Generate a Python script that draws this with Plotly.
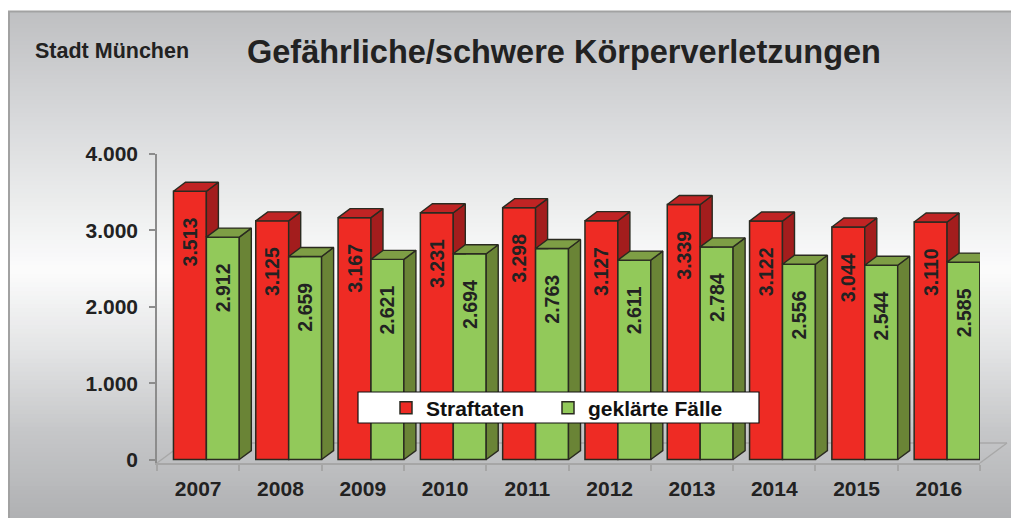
import plotly.graph_objects as go

# ---------------- data ----------------
years = ["2007", "2008", "2009", "2010", "2011", "2012", "2013", "2014", "2015", "2016"]
straftaten = [3513, 3125, 3167, 3231, 3298, 3127, 3339, 3122, 3044, 3110]
geklaert = [2912, 2659, 2621, 2694, 2763, 2611, 2784, 2556, 2544, 2585]
y_ticks = [0, 1000, 2000, 3000, 4000]
series_names = ["Straftaten", "geklärte Fälle"]
title_text = "Gefährliche/schwere Körperverletzungen"
subtitle_text = "Stadt München"

# ---------------- layout constants ----------------
OFF = 8                      # default page (body) margin of the html file
PAGE_W, PAGE_H = 1019, 518
W, H = PAGE_W - OFF, PAGE_H - OFF
PL, PR, PT, PB = 157, 980, 154, 463      # plot area in page pixels
L, R, T, B = PL - OFF, W - (PR - OFF), PT - OFF, H - (PB - OFF)
PW, PH = PR - PL, PB - PT
FONT = "Liberation Sans, Arial, sans-serif"
TXT = "#222222"


def px(x):
    return (x - PL) / PW


def py(y):
    return (PB - y) / PH


BAR_W = 0.4
RED_OFF, GREEN_OFF = -0.1, 0.3
DX, DY = 0.146, 118  # 3D depth offset in data units

RED_FRONT, RED_TOP, RED_SIDE = "#ee2b24", "#c02424", "#a31d1d"
GRN_FRONT, GRN_TOP, GRN_SIDE = "#92c95a", "#7e9e45", "#6a8436"
OUTLINE = "#2a2a20"

xi = list(range(len(years)))
red_x = [i + RED_OFF for i in xi]
green_x = [i + GREEN_OFF for i in xi]


def top_faces(xc, vals):
    xs, ys = [], []
    for x, v in zip(xc, vals):
        l, r = x - BAR_W / 2, x + BAR_W / 2
        xs += [l, r, r + DX, l + DX, l, None]
        ys += [v, v, v + DY, v + DY, v, None]
    return xs, ys


def side_faces(xc, vals, lows=None):
    xs, ys = [], []
    for k, (x, v) in enumerate(zip(xc, vals)):
        r = x + BAR_W / 2
        if lows is None:
            b0, b1 = 0, DY
        else:
            b0, b1 = lows[k], lows[k]
        xs += [r, r, r + DX, r + DX, r, None]
        ys += [b0, v, v + DY, b1, b0, None]
    return xs, ys


fig = go.Figure()

label_font = dict(size=19.5, color=TXT, family=FONT, weight="bold")
label_tpl = "%{y:,}\u2003\u2009"
fig.add_trace(go.Bar(
    x=red_x, y=straftaten, width=BAR_W, name=series_names[0], legend="legend",
    marker=dict(color=RED_FRONT, line=dict(color=OUTLINE, width=1.5)),
    texttemplate=label_tpl, textposition="inside", insidetextanchor="end",
    textangle=-90, constraintext="none", textfont=label_font,
))
fig.add_trace(go.Bar(
    x=green_x, y=geklaert, width=BAR_W, name=series_names[1], legend="legend2",
    marker=dict(color=GRN_FRONT, line=dict(color=OUTLINE, width=1.5)),
    texttemplate=label_tpl, textposition="inside", insidetextanchor="end",
    textangle=-90, constraintext="none", textfont=label_font,
))

for (xs, ys), col in [
    (side_faces(red_x, straftaten, geklaert), RED_SIDE),
    (top_faces(red_x, straftaten), RED_TOP),
    (side_faces(green_x, geklaert), GRN_SIDE),
    (top_faces(green_x, geklaert), GRN_TOP),
]:
    fig.add_trace(go.Scatter(
        x=xs, y=ys, mode="lines", fill="toself", fillcolor=col,
        line=dict(color=OUTLINE, width=1.4), showlegend=False, hoverinfo="skip",
    ))

shapes = []
stops = [(11, (190, 191, 193)), (100, (212, 213, 215)), (180, (230, 231, 232)),
         (270, (252, 252, 252)), (350, (227, 228, 229)), (430, (198, 199, 201)),
         (518, (176, 177, 179))]


def grad(yv):
    for (y0, c0), (y1, c1) in zip(stops[:-1], stops[1:]):
        if y0 <= yv <= y1:
            t = (yv - y0) / (y1 - y0)
            return "rgb(%d,%d,%d)" % tuple(round(a + (b - a) * t) for a, b in zip(c0, c1))
    return "rgb(%d,%d,%d)" % stops[-1][1]


n = 120
top, bot = 11, PAGE_H + 2
step = (bot - top) / n
for k in range(n):
    y0 = top + k * step
    shapes.append(dict(type="rect", xref="paper", yref="paper", layer="below",
                       x0=px(8), x1=px(PAGE_W + 4), y0=py(y0), y1=py(y0 + step + 0.8),
                       fillcolor=grad(y0 + step / 2), line=dict(width=0)))
shapes.append(dict(type="line", xref="paper", yref="paper", layer="below",
                   x0=px(8), x1=px(PAGE_W + 4), y0=py(11.5), y1=py(11.5),
                   line=dict(color="#a2a2a2", width=2)))
shapes.append(dict(type="line", xref="paper", yref="paper", layer="below",
                   x0=px(9), x1=px(9), y0=py(11), y1=py(PAGE_H + 4),
                   line=dict(color="#a2a2a2", width=2)))
floor_col = "#a8a8a8"
for (a, b, c, d) in [(980, 463, 1007, 443), (1007, 443, 184, 443), (157, 463, 184, 443)]:
    shapes.append(dict(type="line", xref="paper", yref="paper", layer="below",
                       x0=px(a), y0=py(b), x1=px(c), y1=py(d),
                       line=dict(color=floor_col, width=1.5)))
shapes.append(dict(type="rect", xref="paper", yref="paper", layer="above",
                   x0=px(358), x1=px(759), y0=py(423), y1=py(392),
                   fillcolor="white", line=dict(color="#111111", width=1.2)))

legend_font = dict(size=21, family=FONT, color="#111111", weight="bold")
legend_common = dict(orientation="h", yanchor="middle", xanchor="left",
                     bgcolor="rgba(0,0,0,0)", borderwidth=0, font=legend_font)

fig.update_layout(
    width=W, height=H,
    margin=dict(l=L, r=R, t=T, b=B, pad=0),
    paper_bgcolor="white", plot_bgcolor="rgba(0,0,0,0)",
    separators=",.",
    barmode="overlay",
    font=dict(family=FONT, color=TXT),
    shapes=shapes,
    showlegend=True,
    legend=dict(x=px(386), y=py(408), **legend_common),
    legend2=dict(x=px(548), y=py(408), **legend_common),
    title=dict(text=title_text, xref="container", yref="container",
               x=(247 - OFF) / W, xanchor="left", y=1 - (52 - OFF) / H, yanchor="middle",
               font=dict(size=32.5, family=FONT, color=TXT, weight="bold")),
    annotations=[dict(text=subtitle_text, xref="paper", yref="paper",
                      x=px(33), y=py(51), xanchor="left", yanchor="middle",
                      showarrow=False,
                      font=dict(size=21.5, family=FONT, color=TXT, weight="bold"))],
    xaxis=dict(range=[-0.5, len(years) - 0.5], tickvals=xi, ticktext=years,
               ticks="", showgrid=False, zeroline=False,
               showline=True, linecolor="#a6a6a6", linewidth=1.5,
               minor=dict(tickvals=[i - 0.5 for i in range(len(years) + 1)],
                          ticks="outside", ticklen=6, tickcolor="#a6a6a6", tickwidth=1.5,
                          showgrid=False),
               ticklabelstandoff=6,
               tickfont=dict(size=21, family=FONT, color=TXT, weight="bold")),
    yaxis=dict(range=[-45, 4000], tickvals=y_ticks, tickformat=",",
               showgrid=False, zeroline=False,
               showline=True, linecolor="#8c8c8c", linewidth=1.5,
               ticks="outside", ticklen=6, tickcolor="#8c8c8c", tickwidth=1.5,
               ticklabelstandoff=7,
               tickfont=dict(size=21, family=FONT, color=TXT, weight="bold")),
)

fig.write_html("out.html")
